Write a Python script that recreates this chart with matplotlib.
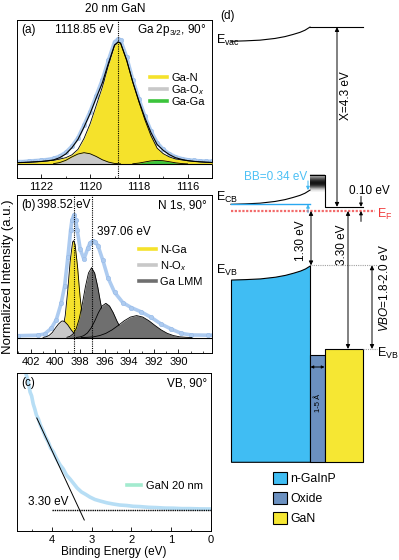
import matplotlib
matplotlib.use("Agg")
import matplotlib.pyplot as plt
import numpy as np
from matplotlib.lines import Line2D
from matplotlib.patches import Patch
from matplotlib.ticker import MultipleLocator

plt.rcParams['font.family'] = ['Liberation Sans', 'DejaVu Sans']
plt.rcParams['mathtext.fontset'] = 'custom'
plt.rcParams['mathtext.rm'] = 'Liberation Sans'
plt.rcParams['mathtext.it'] = 'Liberation Sans:italic'
plt.rcParams['mathtext.bf'] = 'Liberation Sans:bold'

# ---------------- data: panel (a) Ga 2p3/2 ----------------
a_E = [1123.00, 1122.75, 1122.50, 1122.25, 1122.00, 1121.75, 1121.50, 1121.25, 1121.00,
       1120.75, 1120.50, 1120.25, 1120.00, 1119.75, 1119.50, 1119.25, 1119.00, 1118.85,
       1118.75, 1118.50, 1118.25, 1118.00, 1117.75, 1117.50, 1117.25, 1117.00, 1116.75,
       1116.50, 1116.25, 1116.00, 1115.75, 1115.50, 1115.25, 1115.00]
a_data = [0.020, 0.020, 0.025, 0.028, 0.032, 0.037, 0.046, 0.065, 0.095,
          0.145, 0.215, 0.320, 0.430, 0.560, 0.690, 0.850, 1.000, 1.025,
          1.015, 0.875, 0.690, 0.535, 0.390, 0.270, 0.175, 0.120, 0.085,
          0.060, 0.045, 0.035, 0.030, 0.026, 0.024, 0.022]
a_env = [0.011, 0.013, 0.015, 0.018, 0.021, 0.026, 0.034, 0.052, 0.082,
         0.133, 0.202, 0.303, 0.414, 0.542, 0.665, 0.826, 0.975, 1.000,
         0.990, 0.850, 0.672, 0.518, 0.377, 0.256, 0.160, 0.112, 0.077,
         0.052, 0.038, 0.028, 0.022, 0.018, 0.015, 0.013]
a_GaN = [0.011, 0.013, 0.015, 0.018, 0.021, 0.026, 0.031, 0.040, 0.052,
         0.075, 0.120, 0.210, 0.330, 0.480, 0.630, 0.810, 0.970, 1.000,
         0.990, 0.850, 0.670, 0.510, 0.360, 0.230, 0.130, 0.085, 0.058,
         0.042, 0.034, 0.027, 0.022, 0.018, 0.015, 0.013]
GaOx_E = [1121.50, 1121.25, 1121.00, 1120.75, 1120.50, 1120.25, 1120.00, 1119.75,
          1119.50, 1119.25, 1119.00, 1118.75]
GaOx_v = [0.003, 0.012, 0.030, 0.058, 0.082, 0.093, 0.084, 0.062, 0.035, 0.016, 0.005, 0.001]
GaGa_E = [1118.25, 1118.00, 1117.75, 1117.50, 1117.25, 1117.00, 1116.75, 1116.50, 1116.25, 1116.00]
GaGa_v = [0.002, 0.008, 0.017, 0.026, 0.030, 0.027, 0.019, 0.010, 0.004, 0.001]
a_peak = 1118.85

# ---------------- data: panel (b) N 1s ----------------
b_E = [403.0, 401.4, 400.88, 400.34, 399.93, 399.53, 399.25, 398.98, 398.76, 398.65, 398.5,
       398.35, 398.23, 397.98, 397.68, 397.36, 397.2, 396.95, 396.75, 396.54, 396.14, 395.73,
       395.19, 394.51, 393.83, 393.02, 392.21, 391.39, 390.58, 389.77, 388.96, 387.6, 387.2]
b_data = [0.016, 0.020, 0.030, 0.075, 0.145, 0.280, 0.420, 0.660, 0.880, 0.960, 1.000,
          0.960, 0.880, 0.720, 0.640, 0.730, 0.770, 0.790, 0.780, 0.750, 0.630, 0.490,
          0.370, 0.285, 0.245, 0.210, 0.165, 0.110, 0.070, 0.035, 0.022, 0.020, 0.020]
NGa_E = [400.0, 399.8, 399.6, 399.4, 399.2, 399.0, 398.8, 398.6, 398.52, 398.4, 398.2,
         398.0, 397.8, 397.6, 397.4, 397.2, 397.0]
NGa_v = [0.0, 0.005, 0.02, 0.07, 0.18, 0.38, 0.62, 0.78, 0.79, 0.76, 0.58,
         0.34, 0.16, 0.06, 0.017, 0.004, 0.0]
NOx_E = [401.0, 400.75, 400.5, 400.25, 400.0, 399.75, 399.5, 399.4, 399.25, 399.0,
         398.75, 398.5, 398.25, 398.0, 397.75]
NOx_v = [0.002, 0.007, 0.019, 0.042, 0.078, 0.111, 0.134, 0.136, 0.131, 0.105,
         0.068, 0.036, 0.016, 0.005, 0.001]
LMM1_E = [399.06, 398.81, 398.56, 398.31, 398.06, 397.81, 397.56, 397.31, 397.06,
          396.81, 396.56, 396.31, 396.06, 395.81, 395.56, 395.31, 395.06]
LMM1_v = [0.003, 0.011, 0.031, 0.073, 0.155, 0.275, 0.415, 0.527, 0.570,
          0.527, 0.415, 0.275, 0.155, 0.073, 0.031, 0.011, 0.003]
LMM2_E = [398.3, 398.0, 397.7, 397.4, 397.1, 396.8, 396.5, 396.2, 395.9,
          395.6, 395.3, 395.0, 394.7, 394.4, 394.1, 393.8, 393.5]
LMM2_v = [0.002, 0.006, 0.016, 0.038, 0.078, 0.136, 0.204, 0.258, 0.280,
          0.258, 0.204, 0.136, 0.078, 0.038, 0.016, 0.006, 0.002]
LMM3_E = [397.9, 397.4, 396.9, 396.4, 395.9, 395.4, 394.9, 394.4, 393.9, 393.4,
          392.9, 392.4, 391.9, 391.4, 390.9, 390.4, 389.9, 389.4, 388.9]
LMM3_v = [0.001, 0.003, 0.007, 0.017, 0.035, 0.063, 0.099, 0.138, 0.168, 0.180,
          0.168, 0.138, 0.099, 0.063, 0.035, 0.017, 0.007, 0.003, 0.001]
b_peaks = [398.52, 397.06]

# ---------------- data: panel (c) valence band ----------------
c_E = [4.75, 4.69, 4.64, 4.60, 4.56, 4.52, 4.48, 4.44, 4.40, 4.35, 4.30, 4.23, 4.17, 4.10,
       4.04, 3.97, 3.90, 3.80, 3.72, 3.64, 3.55, 3.47, 3.37, 3.26, 3.15, 3.05, 2.92, 2.79,
       2.62, 2.46, 2.30, 2.12, 1.95, 1.78, 1.57, 1.36, 1.15, 0.94, 0.73, 0.52, 0.26, 0.0]
c_v = [1.52, 1.40, 1.33, 1.27, 1.18, 1.14, 1.06, 1.01, 0.95, 0.91, 0.85, 0.79, 0.73, 0.68,
       0.62, 0.58, 0.52, 0.45, 0.41, 0.35, 0.31, 0.27, 0.22, 0.18, 0.155, 0.13, 0.105, 0.09,
       0.072, 0.06, 0.05, 0.045, 0.037, 0.034, 0.027, 0.024, 0.019, 0.018, 0.014, 0.014, 0.011, 0.010]
tangent_E = [4.39, 3.19]
tangent_v = [0.92, -0.10]
onset_E = [4.01, 0.0]
onset_v = [0.0, 0.0]

# ---------------- data: panel (d) band diagram (eV vs E_F) ----------------
E_F = 0.0
gan_cb = 0.10
chi = 4.3
gan_vac = gan_cb + chi
gan_vb = -3.30
gainp_vb_if = -1.30
bb = 0.34
gainp_cb_bulk = 0.16
gainp_vac_bulk = gan_vac - bb
gainp_vb_bulk = gainp_vb_if - bb
oxide_top = -3.44
oxide_cb = [0.45, 0.86]
oxide_grad = [0.78, 0.55, 0.32, 0.14, 0.07, 0.15, 0.40, 0.75, 0.95]
block_bottom = -6.0
bend_x = [231, 245, 260, 275, 285, 293, 300, 305, 310]
bend_frac = [0.0, 0.03, 0.08, 0.20, 0.33, 0.48, 0.63, 0.78, 1.0]
legend_d = ['n-GaInP', 'Oxide', 'GaN']

# ---------------- styles ----------------
YELLOW = '#f5e22b'
LGRAY = '#c8c8c8'
GREEN = '#3cc43c'
DGRAY = '#6f6f6f'
DBLUE = '#adcbf0'
VBBLUE = '#b7def5'
MINT = '#a3ebcf'
C_GAINP = '#40bdf3'
C_OXIDE = '#6b90c0'
C_GAN = '#f6e733'
FS = 8.5

W, H = 399, 560
fig = plt.figure(figsize=(W / 100, H / 100), dpi=100)


def add_ax(x0, y0, x1, y1):
    return fig.add_axes([x0 / W, 1 - y1 / H, (x1 - x0) / W, (y1 - y0) / H])


def ftext(x, y, s, **kw):
    fig.text(x / W, 1 - y / H, s, **kw)


ax_a = add_ax(17, 20, 212, 177.7)
ax_b = add_ax(17, 195, 212, 353)
ax_c = add_ax(17, 373, 210.5, 530.5)
ax_d = add_ax(213, 0, 399, 560)

for ax in (ax_a, ax_b, ax_c):
    for s in ax.spines.values():
        s.set_linewidth(0.7)
    ax.set_yticks([])
    ax.tick_params(axis='x', which='major', direction='in', length=3, width=0.6,
                   labelsize=8, pad=3)
    ax.tick_params(axis='x', which='minor', direction='in', length=1.8, width=0.5)

# ---- (a)
ax_a.plot(a_E, a_data, color=DBLUE, lw=2.6, marker='o', ms=3.2, mfc=DBLUE,
          mec='#98bbe8', mew=0.4, zorder=2)
ax_a.fill_between(a_E, a_GaN, 0, color=YELLOW, lw=0, zorder=3)
ax_a.plot(a_E, a_GaN, color='k', lw=0.6, zorder=3.1)
ax_a.fill_between(GaOx_E, GaOx_v, 0, color=LGRAY, lw=0, zorder=4)
ax_a.plot(GaOx_E, GaOx_v, color='k', lw=0.6, zorder=4.1)
ax_a.fill_between(GaGa_E, GaGa_v, 0, color=GREEN, lw=0, zorder=4)
ax_a.plot(GaGa_E, GaGa_v, color='k', lw=0.6, zorder=4.1)
ax_a.plot(a_E, a_env, color='k', lw=0.8, zorder=6)
ax_a.axhline(0, color='k', lw=0.8, zorder=5)
ax_a.axvline(a_peak, color='k', ls=(0, (1, 1)), lw=0.8, zorder=7)
ax_a.set_xlim(1123, 1115)
ax_a.set_ylim(-0.112, 1.18)
ax_a.set_xticks([1122, 1120, 1118, 1116])
ax_a.xaxis.set_minor_locator(MultipleLocator(1))
ha = [Line2D([], [], color=c, lw=2.6) for c in (YELLOW, LGRAY, GREEN)]
ax_a.legend(ha, ['Ga-N', 'Ga-O$_x$', 'Ga-Ga'], loc='upper left',
            bbox_to_anchor=(150 / W, 1 - 73 / H), bbox_transform=fig.transFigure,
            frameon=False, fontsize=8, handlelength=1.5, handletextpad=0.4,
            labelspacing=0.0, borderpad=0, borderaxespad=0)
ftext(115, 9, '20 nm GaN', ha='center', va='center', fontsize=FS)
ftext(21, 30, '(a)', ha='left', va='center', fontsize=FS)
ftext(114, 30, '1118.85 eV', ha='right', va='center', fontsize=FS)
ftext(207, 30, 'Ga 2p$_{3/2}$, 90°', ha='right', va='center', fontsize=FS)

# ---- (b)
ax_b.plot(b_E, b_data, color=DBLUE, lw=2.6, marker='o', ms=3.2, mfc=DBLUE,
          mec='#98bbe8', mew=0.4, zorder=2)
ax_b.fill_between(NGa_E, NGa_v, 0, color=YELLOW, lw=0, zorder=3)
ax_b.plot(NGa_E, NGa_v, color='k', lw=0.6, zorder=3.1)
ax_b.fill_between(NOx_E, NOx_v, 0, color=LGRAY, lw=0, zorder=4)
ax_b.plot(NOx_E, NOx_v, color='k', lw=0.6, zorder=4.1)
for i, (xe, yv) in enumerate([(LMM1_E, LMM1_v), (LMM2_E, LMM2_v), (LMM3_E, LMM3_v)]):
    ax_b.fill_between(xe, yv, 0, color=DGRAY, lw=0, zorder=5 + i * 0.2)
    ax_b.plot(xe, yv, color='k', lw=0.6, zorder=5.1 + i * 0.2)
ax_b.axhline(0, color='k', lw=0.8, zorder=6)
for p in b_peaks:
    ax_b.axvline(p, color='k', ls=(0, (1, 1)), lw=0.8, zorder=7)
ax_b.set_xlim(403.12, 387.27)
ax_b.set_ylim(-0.125, 1.163)
ax_b.set_xticks([402, 400, 398, 396, 394, 392, 390])
ax_b.xaxis.set_minor_locator(MultipleLocator(1))
hb = [Line2D([], [], color=c, lw=2.6) for c in (YELLOW, LGRAY, DGRAY)]
ax_b.legend(hb, ['N-Ga', 'N-O$_x$', 'Ga LMM'], loc='upper left',
            bbox_to_anchor=(139 / W, 1 - 245 / H), bbox_transform=fig.transFigure,
            frameon=False, fontsize=8, handlelength=1.5, handletextpad=0.4,
            labelspacing=0.35, borderpad=0, borderaxespad=0)
ftext(21, 205, '(b)', ha='left', va='center', fontsize=FS)
ftext(37, 205, '398.52 eV', ha='left', va='center', fontsize=FS)
ftext(97, 232, '397.06 eV', ha='left', va='center', fontsize=FS)
ftext(207, 205, 'N 1s, 90°', ha='right', va='center', fontsize=FS)
ftext(8, 277, 'Normalized Intensity (a.u.)', rotation=90, ha='center', va='center',
      fontsize=9.5)

# ---- (c)
ax_c.plot(c_E, c_v, color=VBBLUE, lw=2.6, zorder=2)
ax_c.plot(tangent_E, tangent_v, color='k', lw=0.7, zorder=3)
ax_c.plot(onset_E, onset_v, color='k', ls=(0, (1, 0.6)), lw=1.0, zorder=3)
ax_c.set_xlim(4.89, 0)
ax_c.set_ylim(-0.205, 1.37)
ax_c.set_xticks([4, 3, 2, 1, 0])
ax_c.xaxis.set_minor_locator(MultipleLocator(0.5))
ax_c.set_xlabel('Binding Energy (eV)', fontsize=FS, labelpad=1)
ax_c.legend([Line2D([], [], color=MINT, lw=2.6)], ['GaN 20 nm'], loc='upper left',
            bbox_to_anchor=(127 / W, 1 - 481 / H), bbox_transform=fig.transFigure,
            frameon=False, fontsize=8, handlelength=1.3, handletextpad=0.4,
            borderpad=0, borderaxespad=0)
ftext(21, 383, '(c)', ha='left', va='center', fontsize=FS)
ftext(207, 383, 'VB, 90°', ha='right', va='center', fontsize=FS)
ftext(48, 502, '3.30 eV', ha='center', va='center', fontsize=FS)

# ---- (d) band diagram
S = 41.8  # px per eV (layout)


def E(py):
    return (211 - py) / S


ax_d.set_xlim(213, 399)
ax_d.set_ylim(E(560), E(0))
ax_d.axis('off')

frac = np.array(bend_frac)
vb_curve = gainp_vb_bulk + bb * frac
cb_curve = gainp_cb_bulk + bb * frac
vac_curve = gainp_vac_bulk + bb * frac

ax_d.fill_between(bend_x, vb_curve, block_bottom, facecolor=C_GAINP, edgecolor='k', lw=0.8, zorder=2)
ax_d.fill_between([310, 325], oxide_top, block_bottom, facecolor=C_OXIDE, edgecolor='k', lw=0.8, zorder=2)
ax_d.fill_between([325, 363], gan_vb, block_bottom, facecolor=C_GAN, edgecolor='k', lw=0.8, zorder=2)

ax_d.plot(bend_x, vac_curve, color='k', lw=0.8)
ax_d.plot([310, 363], [gan_vac, gan_vac], color='k', lw=0.8)
ax_d.imshow(np.array(oxide_grad).reshape(-1, 1), cmap='gray', vmin=0, vmax=1,
            extent=[310, 325, oxide_cb[0], oxide_cb[1]], aspect='auto',
            interpolation='bilinear', origin='upper', zorder=2)
ax_d.plot(bend_x, cb_curve, color='k', lw=0.8, zorder=3)
ax_d.plot([231, 310], [gainp_cb_bulk, gainp_cb_bulk], color='#2aa8f0', lw=1.0, zorder=4)
ax_d.plot([310, 325, 325, 363], [oxide_cb[1], oxide_cb[1], gan_cb, gan_cb], color='k', lw=0.8, zorder=3)
ax_d.plot([231, 375], [E_F, E_F], color='#f26b6b', ls=(0, (1, 0.7)), lw=1.6, zorder=3)
ax_d.plot([311, 377], [gainp_vb_if, gainp_vb_if], color='#a0a0a0', ls=(0, (1, 1)), lw=0.8)
ax_d.plot([363, 377], [gan_vb, gan_vb], color='#a0a0a0', ls=(0, (1, 1)), lw=0.8)


def arrow(x, y0, y1, style='<|-|>', color='k', ms=6, horiz=False):
    if horiz:
        xy, xyt = (y1, x), (y0, x)
    else:
        xy, xyt = (x, y1), (x, y0)
    ax_d.annotate('', xy=xy, xytext=xyt,
                  arrowprops=dict(arrowstyle=style, color=color, lw=0.7,
                                  shrinkA=0, shrinkB=0, mutation_scale=ms), zorder=5)


arrow(337, gan_cb, gan_vac)
arrow(311, E_F, gainp_vb_if)
arrow(348, E_F, gan_vb)
arrow(372, gainp_vb_if, gan_vb)
arrow(361, gan_cb + 0.25, gan_cb, style='-|>', ms=5)
arrow(361, E_F - 0.25, E_F, style='-|>', ms=5)
arrow(308, gainp_cb_bulk + bb + 0.22, gainp_cb_bulk + bb, style='-|>', color='#3fb6f0', ms=5)
arrow(308, E_F - 0.04, gainp_cb_bulk, style='-|>', color='#3fb6f0', ms=5)
arrow(E(367), 310.5, 324.5, style='<|-|>', ms=4, horiz=True)

ax_d.text(228, E(16), '(d)', ha='center', va='center', fontsize=FS)
ax_d.text(216, E(40), r'E$_{\mathrm{vac}}$', ha='left', va='center', fontsize=9)
ax_d.text(216, E(197), r'E$_{\mathrm{CB}}$', ha='left', va='center', fontsize=9)
ax_d.text(216, E(270), r'E$_{\mathrm{VB}}$', ha='left', va='center', fontsize=9)
ax_d.text(377, E(353), r'E$_{\mathrm{VB}}$', ha='left', va='center', fontsize=9)
ax_d.text(377, E(214), r'E$_{\mathrm{F}}$', ha='left', va='center', fontsize=9, color='#f03c3c')
ax_d.text(346, E(96), 'X=4.3 eV', rotation=90, ha='center', va='center', fontsize=FS)
ax_d.text(369, E(191), '0.10 eV', ha='center', va='center', fontsize=FS)
ax_d.text(307, E(177), 'BB=0.34 eV', ha='right', va='center', fontsize=FS, color='#4cc0f5')
ax_d.text(301, E(241), '1.30 eV', rotation=90, ha='center', va='center', fontsize=FS)
ax_d.text(342, E(245), '3.30 eV', rotation=90, ha='center', va='center', fontsize=FS)
ax_d.text(384, E(288), r'$\mathit{VBO}$=1.8-2.0 eV', rotation=90, ha='center', va='center', fontsize=FS)
ax_d.text(318, E(403), '1-5 Å', rotation=90, ha='center', va='center', fontsize=5.5)

hd = [Patch(facecolor=c, edgecolor='k', lw=0.8) for c in (C_GAINP, C_OXIDE, C_GAN)]
ax_d.legend(hd, legend_d, loc='upper left', bbox_to_anchor=(273 / W, 1 - 472 / H),
            bbox_transform=fig.transFigure, frameon=False, fontsize=8.8,
            handlelength=1.15, handleheight=1.15, handletextpad=0.25,
            labelspacing=0.55, borderpad=0, borderaxespad=0)

fig.savefig('out.png', dpi=100)
